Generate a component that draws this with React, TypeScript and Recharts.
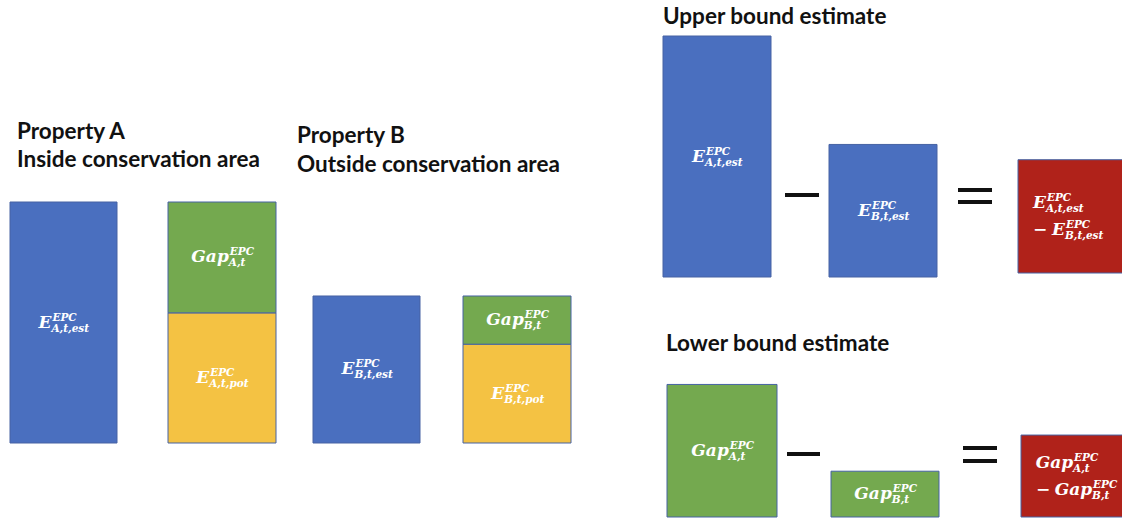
import React from "react"
import { BarChart, Bar, XAxis, YAxis, LabelList } from "recharts"

// left panel: property A (inside conservation area) and property B (outside)
const properties = ["A", "B"]
const estimated = [100, 61]   // E^EPC_{p,t,est}
const potential = [54, 41]    // E^EPC_{p,t,pot}
const gap = [46, 20]          // Gap^EPC_{p,t}

// right panels: first term, second term, difference
const upperBound = [100, 55, 47]
const lowerBound = [55, 19, 34]

const BLUE = "#4a6fbf"
const GREEN = "#74a94f"
const YELLOW = "#f4c243"
const RED = "#b0221a"
const EDGE = "#4662a3"

const PLOT_H = 241
const MAX = 100

type Term = { base: string; sup: string; sub: string }
type Label = Term[]

const E = (sub: string): Term => ({ base: "E", sup: "EPC", sub })
const G = (sub: string): Term => ({ base: "Gap", sup: "EPC", sub })

// rough glyph widths for DejaVu Serif bold italic, in em
const GLYPH: Record<string, number> = { ",": 0.34, t: 0.45, s: 0.58, e: 0.64, o: 0.66, a: 0.68, p: 0.7, G: 0.8, E: 0.76 }
const textW = (s: string, size: number) => {
  let w = 0
  for (const c of s) w += GLYPH[c] ?? 0.74
  return w * size
}

function Formula({ cx, cy, label, startX }: { cx: number; cy: number; label: Label; startX?: number }) {
  const BS = 17
  const SS = 10.5
  const lineGap = 27
  const y0 = cy - ((label.length - 1) * lineGap) / 2
  return (
    <g fill="#fff" fontFamily="DejaVu Serif" fontStyle="italic" fontWeight={600}>
      {label.map((t, i) => {
        const pw = i > 0 ? 19 : 0
        const bw = textW(t.base, BS)
        const sw = Math.max(textW(t.sup, SS), textW(t.sub, SS))
        const total = pw + bw + sw
        const left = startX !== undefined ? startX : cx - total / 2
        const split = left + pw + bw
        const y = y0 + i * lineGap
        return (
          <g key={i}>
            {i > 0 && (
              <text x={left} y={y + 5} fontSize={BS} fontStyle="normal">−</text>
            )}
            <text x={split} y={y + 5} fontSize={BS} textAnchor="end">{t.base}</text>
            <text x={split + 1} y={y - 2} fontSize={SS}>{t.sup}</text>
            <text x={split} y={y + 9} fontSize={SS}>{t.sub}</text>
          </g>
        )
      })}
    </g>
  )
}

type Segment = { key: string; value: number; fill: string; label: Label }

function Column({ x, bottom, width, segments, leftAlign }: {
  x: number; bottom: number; width: number; segments: Segment[]; leftAlign?: number
}) {
  const row: Record<string, number | string> = { name: segments[0].key }
  segments.forEach(s => { row[s.key] = s.value })
  return (
    <div style={{ position: "absolute", left: x - 1, top: bottom - PLOT_H - 1 }}>
      <BarChart
        width={width + 2}
        height={PLOT_H + 2}
        data={[row]}
        margin={{ top: 1, right: 1, bottom: 1, left: 1 }}
        barCategoryGap="0%"
        style={{ overflow: "visible" }}
      >
        <XAxis dataKey="name" hide />
        <YAxis hide domain={[0, MAX]} />
        {segments.map(s => (
          <Bar
            key={s.key}
            dataKey={s.key}
            stackId="s"
            fill={s.fill}
            stroke={EDGE}
            strokeWidth={1}
            isAnimationActive={false}
          >
            <LabelList
              dataKey={s.key}
              content={(p: any) => (
                <Formula
                  cx={Number(p.x) + Number(p.width) / 2}
                  cy={Number(p.y) + Number(p.height) / 2}
                  label={s.label}
                  startX={leftAlign !== undefined ? Number(p.x) + leftAlign : undefined}
                />
              )}
            />
          </Bar>
        ))}
      </BarChart>
    </div>
  )
}

const titleStyle: React.CSSProperties = {
  position: "absolute",
  fontFamily: "Lato",
  fontWeight: 700,
  fontSize: 22.5,
  color: "#111",
  whiteSpace: "nowrap",
}

function Op({ x, y, w }: { x: number; y: number[]; w: number }) {
  return (
    <>
      {y.map((yy, i) => (
        <div key={i} style={{ position: "absolute", left: x, top: yy, width: w, height: 4, background: "#111" }} />
      ))}
    </>
  )
}

export default function App() {
  const [a, b] = properties
  return (
    <div style={{ position: "absolute", left: 0, top: 0, width: 1122, height: 519, overflow: "hidden", background: "#fff" }}>
      <div style={{ ...titleStyle, left: 17, top: 117, lineHeight: "28px" }}>
        Property {a}<br />Inside conservation area
      </div>
      <div style={{ ...titleStyle, left: 297, top: 120, lineHeight: "29px" }}>
        Property {b}<br />Outside conservation area
      </div>
      <div style={{ ...titleStyle, left: 663, top: 2, lineHeight: "28px" }}>Upper bound estimate</div>
      <div style={{ ...titleStyle, left: 666, top: 329, lineHeight: "28px" }}>Lower bound estimate</div>

      {/* property A */}
      <Column x={10} bottom={443} width={107}
        segments={[{ key: "estA", value: estimated[0], fill: BLUE, label: [E(`${a},t,est`)] }]} />
      <Column x={168} bottom={443} width={108}
        segments={[
          { key: "potA", value: potential[0], fill: YELLOW, label: [E(`${a},t,pot`)] },
          { key: "gapA", value: gap[0], fill: GREEN, label: [G(`${a},t`)] },
        ]} />
      {/* property B */}
      <Column x={313} bottom={443} width={107}
        segments={[{ key: "estB", value: estimated[1], fill: BLUE, label: [E(`${b},t,est`)] }]} />
      <Column x={463} bottom={443} width={108}
        segments={[
          { key: "potB", value: potential[1], fill: YELLOW, label: [E(`${b},t,pot`)] },
          { key: "gapB", value: gap[1], fill: GREEN, label: [G(`${b},t`)] },
        ]} />

      {/* upper bound */}
      <Column x={663} bottom={277} width={108}
        segments={[{ key: "u1", value: upperBound[0], fill: BLUE, label: [E("A,t,est")] }]} />
      <Op x={785} y={[193]} w={34} />
      <Column x={829} bottom={277} width={108}
        segments={[{ key: "u2", value: upperBound[1], fill: BLUE, label: [E("B,t,est")] }]} />
      <Op x={958} y={[188, 200]} w={34} />
      <Column x={1018} bottom={273} width={107} leftAlign={15}
        segments={[{ key: "u3", value: upperBound[2], fill: RED, label: [E("A,t,est"), E("B,t,est")] }]} />

      {/* lower bound */}
      <Column x={667} bottom={517} width={110}
        segments={[{ key: "l1", value: lowerBound[0], fill: GREEN, label: [G("A,t")] }]} />
      <Op x={787} y={[452]} w={33} />
      <Column x={831} bottom={517} width={108}
        segments={[{ key: "l2", value: lowerBound[1], fill: GREEN, label: [G("B,t")] }]} />
      <Op x={963} y={[446, 459]} w={34} />
      <Column x={1021} bottom={517} width={107} leftAlign={15}
        segments={[{ key: "l3", value: lowerBound[2], fill: RED, label: [G("A,t"), G("B,t")] }]} />
    </div>
  )
}
